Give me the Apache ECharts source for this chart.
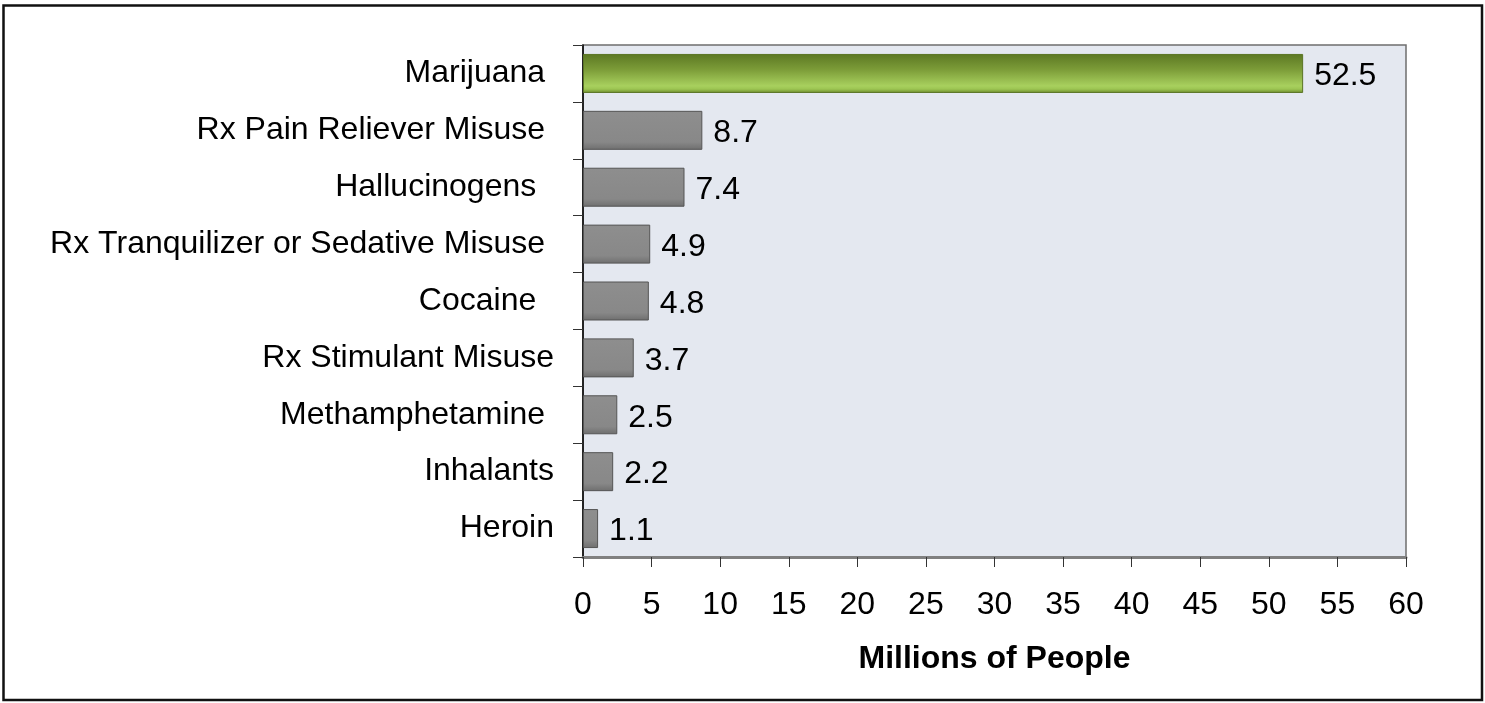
<!DOCTYPE html>
<html>
<head>
<meta charset="utf-8">
<script src="https://cdn.jsdelivr.net/npm/echarts@6/dist/echarts.min.js"></script>
<style>
  html, body { margin: 0; padding: 0; background: #fff; }
  #chart { width: 1485px; height: 703px; }
</style>
</head>
<body>
<div id="chart"></div>
<script>
// Past-year users by substance (millions of people), top to bottom
const categories = [
  'Marijuana ',
  'Rx Pain Reliever Misuse ',
  'Hallucinogens  ',
  'Rx Tranquilizer or Sedative Misuse ',
  'Cocaine  ',
  'Rx Stimulant Misuse',
  'Methamphetamine ',
  'Inhalants',
  'Heroin'
];
const values = [52.5, 8.7, 7.4, 4.9, 4.8, 3.7, 2.5, 2.2, 1.1];
const xTicks = { min: 0, max: 60, interval: 5 };
const axisTitle = 'Millions of People';

const FONT = 'Liberation Sans, Arial, Helvetica, sans-serif';

const grayBar = {
  color: new echarts.graphic.LinearGradient(0, 0, 0, 1, [
    { offset: 0, color: '#8e8e8e' },
    { offset: 0.8, color: '#888888' },
    { offset: 1, color: '#6e6e6e' }
  ]),
  borderColor: '#555555',
  borderWidth: 1
};
const greenBar = {
  color: new echarts.graphic.LinearGradient(0, 0, 0, 1, [
    { offset: 0, color: '#5c7823' },
    { offset: 0.4, color: '#7c9c38' },
    { offset: 0.82, color: '#a8d05e' },
    { offset: 0.9, color: '#9cc552' },
    { offset: 1, color: '#6e8a2e' }
  ]),
  borderColor: '#5a7424',
  borderWidth: 1
};

const seriesData = values.map((v, i) => ({
  value: v,
  itemStyle: i === 0 ? greenBar : grayBar
}));

const chart = echarts.init(document.getElementById('chart'), null, { renderer: 'canvas' });
chart.setOption({
  backgroundColor: '#ffffff',
  animation: false,
  grid: {
    left: 583, right: 79, top: 45, bottom: 146,
    show: true,
    backgroundColor: '#e4e8f0',
    borderColor: '#6e6e6e',
    borderWidth: 1.5
  },
  xAxis: {
    type: 'value',
    min: xTicks.min, max: xTicks.max, interval: xTicks.interval,
    name: axisTitle,
    nameLocation: 'middle',
    nameGap: 86,
    nameTextStyle: { fontFamily: FONT, fontSize: 32, fontWeight: 'bold', color: '#000' },
    axisLine: { show: true, lineStyle: { color: '#808080', width: 3 } },
    axisTick: { show: true, length: 10, lineStyle: { color: '#333', width: 1 } },
    axisLabel: { fontFamily: FONT, fontSize: 32, color: '#000', margin: 32 },
    splitLine: { show: false }
  },
  yAxis: {
    type: 'category',
    inverse: true,
    data: categories,
    axisLine: { show: true, lineStyle: { color: '#000', width: 1.5 } },
    axisTick: { show: true, length: 10, alignWithLabel: false, lineStyle: { color: '#333', width: 1 } },
    axisLabel: { fontFamily: FONT, fontSize: 32, color: '#000', margin: 29 },
    splitLine: { show: false }
  },
  series: [{
    type: 'bar',
    data: seriesData,
    barWidth: 39,
    label: {
      show: true,
      position: 'right',
      distance: 11,
      fontFamily: FONT,
      fontSize: 32,
      color: '#000',
      offset: [0, 3]
    }
  }],
  graphic: [{
    type: 'rect',
    shape: { x: 3.5, y: 5.5, width: 1478.5, height: 694.5 },
    style: { fill: 'none', stroke: '#111', lineWidth: 2.5 },
    silent: true
  }]
});
</script>
</body>
</html>
